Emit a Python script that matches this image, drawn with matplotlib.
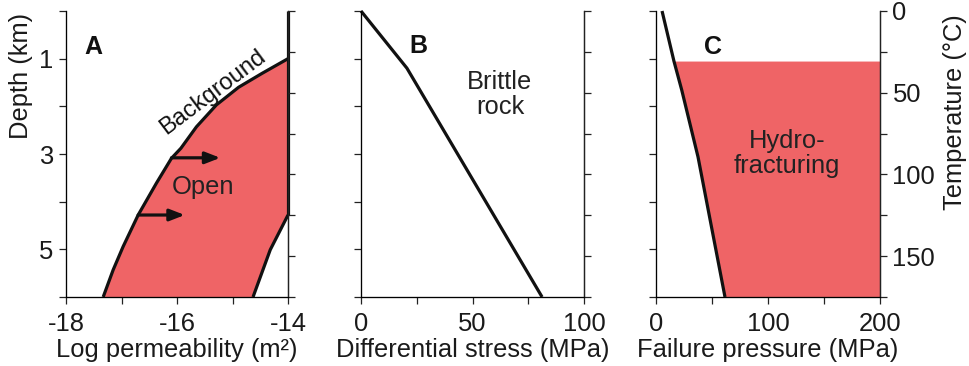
import matplotlib
matplotlib.use("Agg")
import matplotlib.pyplot as plt
import numpy as np

plt.rcParams['font.family'] = ['Liberation Sans', 'DejaVu Sans']

# Panel A: permeability bounds versus depth
bg_depth = [1.0, 1.31, 1.60, 1.97, 2.43, 2.88, 3.09, 3.61, 4.28, 4.94, 5.43, 6.0]
bg_logk = [-14.0, -14.47, -14.89, -15.29, -15.65, -15.93, -16.10, -16.37,
           -16.70, -16.97, -17.15, -17.33]
open_depth = [4.28, 5.01, 6.0]
open_logk = [-14.0, -14.32, -14.63]
arrow_depth = [3.08, 4.28]
arrow_start = [-16.10, -16.70]
arrow_end = [-15.22, -15.86]

# Panel B: differential stress for brittle rock
stress_depth = [0.0, 1.2, 6.0]
stress_mpa = [0.0, 20.6, 81.2]

# Panel C: failure pressure
fail_depth = [0.0, 1.05, 1.66, 3.06, 6.0]
fail_mpa = [5.4, 16.0, 23.0, 37.5, 61.6]
frac_top = 1.05

depth_ticks = [0, 1, 2, 3, 4, 5, 6]
depth_labels = ["", "1", "", "3", "", "5", ""]
temp_ticks = [0, 25, 50, 75, 100, 125, 150, 175]
temp_labels = ["0", "", "50", "", "100", "", "150", ""]

fill_col = "#EF6466"
ink = "#111111"
line_kw = dict(color=ink, lw=2.3, solid_capstyle="butt")
FS = 18.4

W, H = 969, 366
fig = plt.figure(figsize=(W / 100, H / 100), dpi=100)


def make_ax(x0, x1):
    ax = fig.add_axes([x0 / W, (H - 297) / H, (x1 - x0) / W, (297 - 11) / H])
    ax.set_ylim(6, 0)
    for s in ("left", "right", "bottom"):
        ax.spines[s].set_linewidth(0.9)
        ax.spines[s].set_color("#222222")
    ax.spines["top"].set_visible(False)
    ax.set_yticks(depth_ticks)
    ax.tick_params(direction="out", length=5, width=0.9, color="#222222",
                   labelsize=FS, pad=4, labelcolor="#1a1a1a")
    ax.tick_params(axis="x", pad=6)
    ax2 = ax.twinx()
    ax2.set_ylim(175, 0)
    ax2.spines["top"].set_visible(False)
    ax2.spines["right"].set_linewidth(0.9)
    ax2.spines["right"].set_color("#222222")
    ax2.set_yticks(temp_ticks)
    ax2.tick_params(direction="out", length=5, width=0.9, color="#222222",
                    labelsize=FS, pad=4, labelcolor="#1a1a1a")
    return ax, ax2


# ---- A ----
axA, axA2 = make_ax(66, 288)
axA.set_xlim(-18, -14)
axA.set_xticks([-18, -17, -16, -15, -14])
axA.set_xticklabels(["-18", "", "-16", "", "-14"])
axA.set_yticklabels(depth_labels)
axA2.set_yticklabels([])
axA.set_xlabel("Log permeability (m²)", fontsize=FS, labelpad=1, color="#1a1a1a")
axA.set_ylabel("Depth (km)", fontsize=FS, color="#1a1a1a")
axA.yaxis.set_label_coords(-0.149, 0.773)

poly_d = bg_depth + open_depth[::-1]
poly_k = bg_logk + open_logk[::-1]
axA.fill(poly_k, poly_d, color=fill_col, lw=0, zorder=1)
axA.plot(bg_logk, bg_depth, clip_on=False, zorder=3, **line_kw)
axA.plot(open_logk, open_depth, clip_on=False, zorder=3, **line_kw)
axA.plot([-14, -14], [0, open_depth[0]], clip_on=False, zorder=3, **line_kw)
for d, xs, xe in zip(arrow_depth, arrow_start, arrow_end):
    axA.annotate("", xy=(xe, d), xytext=(xs, d),
                 arrowprops=dict(arrowstyle="-|>,head_length=0.9,head_width=0.35",
                                 color=ink, lw=2.3, shrinkA=0, shrinkB=0),
                 zorder=4)
axA.text(-17.5, 0.76, "A", fontsize=18, fontweight="bold", ha="center", va="center",
         color=ink)
axA.text(-15.53, 3.69, "Open", fontsize=FS, ha="center", va="center", color="#222222")
axA.text(-15.28, 1.81, "Background", fontsize=17, ha="center", va="baseline",
         rotation=37, rotation_mode="anchor", color=ink)

# ---- B ----
axB, axB2 = make_ax(361, 584)
axB.set_xlim(0, 100)
axB.set_xticks([0, 25, 50, 75, 100])
axB.set_xticklabels(["0", "", "50", "", "100"])
axB.set_yticklabels([])
axB2.set_yticklabels([])
axB.set_xlabel("Differential stress (MPa)", fontsize=FS, labelpad=1, color="#1a1a1a")
axB.plot(stress_mpa, stress_depth, clip_on=False, zorder=3, **line_kw)
axB.text(25.6, 0.73, "B", fontsize=18, fontweight="bold", ha="center", va="center",
         color=ink)
axB.text(62.3, 1.76, "Brittle\nrock", fontsize=FS, ha="center", va="center",
         linespacing=1.05, color="#222222")

# ---- C ----
axC, axC2 = make_ax(656, 880)
axC.set_xlim(0, 200)
axC.set_xticks([0, 50, 100, 150, 200])
axC.set_xticklabels(["0", "", "100", "", "200"])
axC.set_yticklabels([])
axC2.set_yticklabels(temp_labels)
axC.set_xlabel("Failure pressure (MPa)", fontsize=FS, labelpad=1, color="#1a1a1a")
axC2.set_ylabel("Temperature (°C)", fontsize=FS, color="#1a1a1a")
axC2.yaxis.set_label_coords(1.281, 0.647)

d_fill = np.array(fail_depth)
x_fill = np.array(fail_mpa)
mask = d_fill >= frac_top
fd = [frac_top] + list(d_fill[mask])
fx = [np.interp(frac_top, fail_depth, fail_mpa)] + list(x_fill[mask])
axC.fill_betweenx(fd, fx, 200, color=fill_col, lw=0, zorder=1)
axC.plot(fail_mpa, fail_depth, clip_on=False, zorder=3, **line_kw)
axC.text(51, 0.76, "C", fontsize=18, fontweight="bold", ha="center", va="center",
         color=ink)
axC.text(117, 2.98, "Hydro-\nfracturing", fontsize=FS, ha="center", va="center",
         linespacing=1.05, color="#222222")

fig.savefig("out.png", dpi=100)
